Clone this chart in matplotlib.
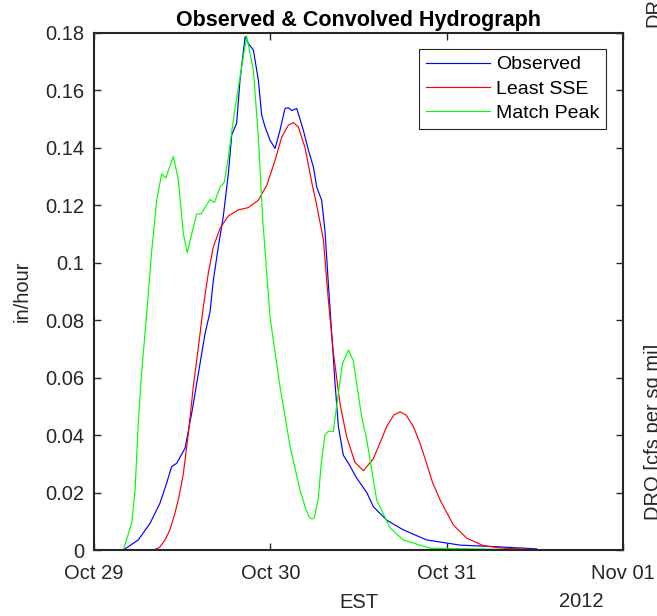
import numpy as np
import pandas as pd
import matplotlib
matplotlib.use("Agg")
import matplotlib.pyplot as plt
import matplotlib.dates as mdates
from matplotlib.ticker import FormatStrFormatter

plt.rcParams['font.family'] = ['Liberation Sans', 'DejaVu Sans']

# --- data (days since 2012-10-29 00:00 EST, in/hour) -----------------------
start = pd.Timestamp("2012-10-29")

obs_day = [0.0, 0.166, 0.251, 0.318, 0.374, 0.412, 0.44, 0.469, 0.516, 0.554,
           0.592, 0.63, 0.658, 0.677, 0.705, 0.733, 0.762, 0.781, 0.809, 0.828,
           0.857, 0.875, 0.904, 0.932, 0.951, 0.97, 0.998, 1.027, 1.055, 1.083,
           1.102, 1.121, 1.15, 1.187, 1.216, 1.244, 1.263, 1.291, 1.31, 1.329,
           1.348, 1.367, 1.386, 1.414, 1.443, 1.49, 1.547, 1.584, 1.66, 1.754,
           1.887, 2.076, 2.265, 2.51]
obs_val = [0.0, 0.0, 0.0035, 0.0093, 0.0163, 0.0233, 0.029, 0.0302, 0.0354, 0.0476,
           0.0615, 0.0754, 0.0829, 0.094, 0.1056, 0.116, 0.1311, 0.1445, 0.1486, 0.1636,
           0.1787, 0.1764, 0.174, 0.1636, 0.1514, 0.1473, 0.1427, 0.1398, 0.1462, 0.1537,
           0.154, 0.153, 0.1537, 0.1462, 0.1392, 0.1334, 0.1264, 0.1218, 0.111, 0.0928,
           0.0754, 0.058, 0.0429, 0.033, 0.0302, 0.025, 0.02, 0.0151, 0.0104, 0.007,
           0.0035, 0.0017, 0.0012, 0.0004]

sse_day = [0.0, 0.336, 0.37, 0.403, 0.43, 0.459, 0.48, 0.507, 0.535, 0.563,
           0.592, 0.62, 0.648, 0.677, 0.715, 0.762, 0.818, 0.875, 0.932, 0.98,
           1.027, 1.065, 1.102, 1.13, 1.159, 1.197, 1.235, 1.263, 1.301, 1.329,
           1.357, 1.395, 1.433, 1.48, 1.528, 1.584, 1.62, 1.66, 1.70, 1.736,
           1.77, 1.811, 1.85, 1.887, 1.92, 1.963, 2.038, 2.114, 2.208, 2.322,
           2.56]
sse_val = [0.0, 0.0, 0.0008, 0.0035, 0.007, 0.0128, 0.018, 0.0267, 0.0406, 0.0568,
           0.0707, 0.0847, 0.0963, 0.1056, 0.112, 0.1163, 0.1184, 0.1192, 0.1218, 0.127,
           0.1357, 0.1438, 0.1479, 0.1488, 0.1473, 0.14, 0.128, 0.12, 0.108, 0.087,
           0.069, 0.051, 0.0394, 0.0305, 0.0276, 0.0318, 0.037, 0.043, 0.047, 0.0481,
           0.047, 0.043, 0.037, 0.03, 0.0235, 0.0174, 0.0087, 0.0041, 0.0015, 0.0006,
           0.0]

peak_day = [0.0, 0.166, 0.214, 0.233, 0.251, 0.27, 0.299, 0.327, 0.356, 0.384,
            0.407, 0.45, 0.478, 0.507, 0.529, 0.554, 0.582, 0.607, 0.658, 0.683,
            0.715, 0.739, 0.762, 0.79, 0.828, 0.866, 0.904, 0.932, 0.951, 0.957,
            0.998, 1.055, 1.112, 1.168, 1.20, 1.22, 1.235, 1.25, 1.272, 1.29,
            1.31, 1.329, 1.357, 1.38, 1.41, 1.443, 1.47, 1.518, 1.547, 1.603,
            1.679, 1.754, 1.906, 2.56]
peak_val = [0.0, 0.0, 0.0094, 0.021, 0.044, 0.0616, 0.0825, 0.104, 0.122, 0.131,
            0.1295, 0.137, 0.129, 0.11, 0.1035, 0.11, 0.117, 0.117, 0.122, 0.121,
            0.1264, 0.128, 0.1369, 0.1497, 0.1647, 0.1789, 0.167, 0.1438, 0.122, 0.1149,
            0.0812, 0.0568, 0.036, 0.0209, 0.0145, 0.0115, 0.0108, 0.0112, 0.018, 0.031,
            0.04, 0.0414, 0.0412, 0.052, 0.065, 0.0696, 0.066, 0.0464, 0.0383, 0.0174,
            0.0077, 0.0035, 0.0006, 0.0]

def to_time(days):
    return start + pd.to_timedelta(np.asarray(days), unit="D")

# --- figure -----------------------------------------------------------------
INK = "#262626"
fig = plt.figure(figsize=(6.57, 6.16), dpi=100)
ax = fig.add_axes([94 / 657, 66 / 616, 529 / 657, 517 / 616])

ax.plot(to_time(obs_day), obs_val, color=(0, 0, 1), lw=0.85, label="Observed")
ax.plot(to_time(sse_day), sse_val, color=(1, 0, 0), lw=0.85, label="Least SSE")
ax.plot(to_time(peak_day), peak_val, color=(0, 1, 0), lw=0.85, label="Match Peak")

ax.set_xlim(start, start + pd.Timedelta(days=3))
ax.set_ylim(0, 0.18)
ax.set_yticks(np.arange(0, 0.181, 0.02))
ax.yaxis.set_major_formatter(FormatStrFormatter('%g'))
ax.xaxis.set_major_locator(mdates.DayLocator())
ax.xaxis.set_major_formatter(mdates.DateFormatter('%b %d'))

ax.tick_params(direction='in', length=5, width=1, top=True, right=True,
               labelsize=14.5, colors=INK, pad=7)
ax.tick_params(axis='x', pad=10)
for s in ax.spines.values():
    s.set_color(INK)
    s.set_linewidth(1.5)

ax.set_title("Observed & Convolved Hydrograph", fontsize=15.5,
             fontweight='bold', color='black', pad=5)
ax.set_xlabel("EST", fontsize=14.5, color=INK, labelpad=7)
ax.set_ylabel("in/hour", fontsize=14.5, color=INK, labelpad=10)
ax.text(0.9206, -0.1, "2012", transform=ax.transAxes, ha='center',
        va='center', fontsize=14.5, color=INK)

leg = ax.legend(loc='upper right', bbox_to_anchor=(0.968, 0.969),
                borderaxespad=0, fontsize=14, fancybox=False, framealpha=1,
                handlelength=3.3, handletextpad=0.3, labelspacing=0.35,
                borderpad=0.35)
leg.get_frame().set_edgecolor(INK)
leg.get_frame().set_linewidth(0.8)

# labels of the neighbouring panel, cut by the figure edge as in the source
fig.text(659 / 657, 1 - 520 / 616, "DRO [cfs per sq mi]", rotation=90,
         rotation_mode='anchor', ha='left', va='baseline', fontsize=14.5, color=INK)
fig.text(659 / 657, 1 - 27 / 616, "DRO", rotation=90,
         rotation_mode='anchor', ha='left', va='baseline', fontsize=14.5, color=INK)

fig.savefig("out.png", dpi=100)
